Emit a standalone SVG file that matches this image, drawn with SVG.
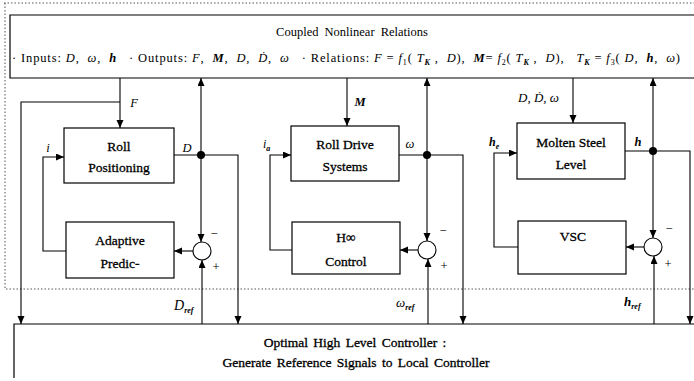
<svg xmlns="http://www.w3.org/2000/svg" width="694" height="381" viewBox="0 0 694 381" font-family="'Liberation Serif', 'Times New Roman', serif">
<defs>
<marker id="ah" markerUnits="userSpaceOnUse" markerWidth="9" markerHeight="8" refX="8" refY="3.5" orient="auto">
<path d="M0,0 L8,3.5 L0,7 z" fill="#000"/>
</marker>
<style>
text{font-family:'Liberation Serif','Times New Roman',serif;fill:#000}
.lbl{font-size:12.5px;text-anchor:middle}
.bx{font-size:13.5px;text-anchor:middle;stroke:#000;stroke-width:0.3}
.it{font-style:italic}
.bi{font-style:italic;font-weight:bold}
.sm{font-size:8px}
.box{fill:#fff;stroke:#000;stroke-width:1.2}
.cn{fill:none;stroke:#000;stroke-width:1.1}
.ar{marker-end:url(#ah)}
.dot{fill:#000}
.sum{fill:#fff;stroke:#000;stroke-width:1.1}
.dash{fill:none;stroke:#555;stroke-width:1;stroke-dasharray:1.5 2}
</style>
</defs>
<rect width="694" height="381" fill="#fff"/>
<g id="frame">
<path class="dash" d="M4,3 H694 M5,3 V289 H694"/>
</g>
<g id="coupled">
<path class="box" d="M700,15 H10 V78 H700"/>
<text class="lbl" x="352" y="36" font-size="13.5" word-spacing="3">Coupled Nonlinear Relations</text>
<text x="12" y="62" font-size="12.5" textLength="668" lengthAdjust="spacing" xml:space="preserve">· Inputs: <tspan class="it">D</tspan>,  <tspan class="it">ω</tspan>,  <tspan class="bi">h</tspan>   · Outputs: <tspan class="it">F</tspan>,  <tspan class="bi">M</tspan>,  <tspan class="it">D</tspan>,  <tspan class="it">Ḋ</tspan>,  <tspan class="it">ω</tspan>   · Relations: <tspan class="it">F</tspan> = <tspan class="it">f</tspan><tspan class="sm" dy="3">1</tspan><tspan dy="-3">( </tspan><tspan class="it">T</tspan><tspan class="bi sm" dy="3">K</tspan><tspan dy="-3"> ,  </tspan><tspan class="it">D</tspan>),  <tspan class="bi">M</tspan>= <tspan class="it">f</tspan><tspan class="sm" dy="3">2</tspan><tspan dy="-3">( </tspan><tspan class="it">T</tspan><tspan class="bi sm" dy="3">K</tspan><tspan dy="-3"> ,  </tspan><tspan class="it">D</tspan>),   <tspan class="it">T</tspan><tspan class="bi sm" dy="3">K</tspan><tspan dy="-3"> = </tspan><tspan class="it">f</tspan><tspan class="sm" dy="3">3</tspan><tspan dy="-3">( </tspan><tspan class="it">D</tspan>,  <tspan class="bi">h</tspan>,  <tspan class="it">ω</tspan>)</text>
</g>
<g id="optimal">
<path class="box" d="M14,378 V324 H700"/>
<text class="bx" x="355" y="347" word-spacing="2">Optimal High Level Controller :</text>
<text class="bx" x="356" y="367" word-spacing="2">Generate Reference Signals to Local Controller</text>
</g>
<g id="roll-positioning">
<rect class="box" x="64" y="128" width="110" height="55"/>
<text class="bx" x="119" y="151">Roll</text>
<text class="bx" x="119" y="172">Positioning</text>
</g>
<g id="adaptive">
<rect class="box" x="66" y="222" width="108" height="56"/>
<text class="bx" x="120" y="245">Adaptive</text>
<text class="bx" x="120" y="268">Predic-</text>
</g>
<g id="roll-drive">
<rect class="box" x="291" y="126" width="108" height="55"/>
<text class="bx" x="345" y="149">Roll Drive</text>
<text class="bx" x="345" y="171">Systems</text>
</g>
<g id="hinf">
<rect class="box" x="292" y="222" width="108" height="52"/>
<text class="bx" x="346" y="242">H∞</text>
<text class="bx" x="346" y="266">Control</text>
</g>
<g id="molten">
<rect class="box" x="517" y="123" width="108" height="56"/>
<text class="bx" x="571" y="147">Molten Steel</text>
<text class="bx" x="571" y="169">Level</text>
</g>
<g id="vsc">
<rect class="box" x="518" y="221" width="108" height="53"/>
<text class="bx" x="573" y="241">VSC</text>
</g>
<g id="sums">
<circle class="sum" cx="202" cy="251" r="9"/>
<circle class="sum" cx="427" cy="250" r="9"/>
<circle class="sum" cx="653" cy="247" r="9"/>
</g>
<g id="connectors">
<path class="cn ar" d="M120,78 V128"/>
<path class="cn ar" d="M120,102 H21 V324"/>
<path class="cn ar" d="M174,155 H238 V324"/>
<path class="cn ar" d="M201,155 V78"/>
<path class="cn ar" d="M201,155 V242"/>
<path class="cn ar" d="M193,251 H174"/>
<path class="cn ar" d="M66,251 H43 V157 H64"/>
<path class="cn ar" d="M202,324 V260"/>
<circle class="dot" cx="201" cy="155" r="4"/>

<path class="cn ar" d="M347,78 V126"/>
<path class="cn ar" d="M399,155 H463 V324"/>
<path class="cn ar" d="M427,155 V78"/>
<path class="cn ar" d="M427,155 V241"/>
<path class="cn ar" d="M418,250 H400"/>
<path class="cn ar" d="M292,250 H270 V155 H291"/>
<path class="cn ar" d="M428,324 V259"/>
<circle class="dot" cx="427" cy="155" r="4"/>

<path class="cn ar" d="M573,78 V123"/>
<path class="cn ar" d="M625,151 H690 V324"/>
<path class="cn ar" d="M653,151 V78"/>
<path class="cn ar" d="M653,151 V238"/>
<path class="cn ar" d="M644,247 H626"/>
<path class="cn ar" d="M518,247 H494 V153 H517"/>
<path class="cn ar" d="M654,324 V256"/>
<circle class="dot" cx="653" cy="151" r="4"/>
</g>
<g id="labels">
<text class="lbl it" x="134" y="107" font-size="14">F</text>
<text class="lbl it" x="48" y="152">i</text>
<text class="lbl it" x="187" y="152" font-size="14">D</text>
<text class="lbl" x="214" y="238">−</text>
<text class="lbl" x="216" y="271">+</text>
<text class="it" x="174" y="310" font-size="14">D<tspan class="bi sm" dy="3">ref</tspan></text>

<text class="lbl bi" x="360" y="106" font-size="13">M</text>
<text class="it" x="263" y="148" font-size="12">i<tspan class="bi sm" dy="3">a</tspan></text>
<text class="lbl it" x="410" y="148">ω</text>
<text class="lbl" x="443" y="235">−</text>
<text class="lbl" x="444" y="270">+</text>
<text class="it" x="396" y="307" font-size="13">ω<tspan class="bi sm" dy="3">ref</tspan></text>

<text class="it" x="518" y="102" font-size="13">D, Ḋ, ω</text>
<text class="bi" x="489" y="146" font-size="12">h<tspan class="sm" dy="3">e</tspan></text>
<text class="lbl bi" x="638" y="146">h</text>
<text class="lbl" x="669" y="233">−</text>
<text class="lbl" x="668" y="268">+</text>
<text class="bi" x="624" y="306" font-size="13">h<tspan class="sm" dy="3">ref</tspan></text>
</g>
</svg>
